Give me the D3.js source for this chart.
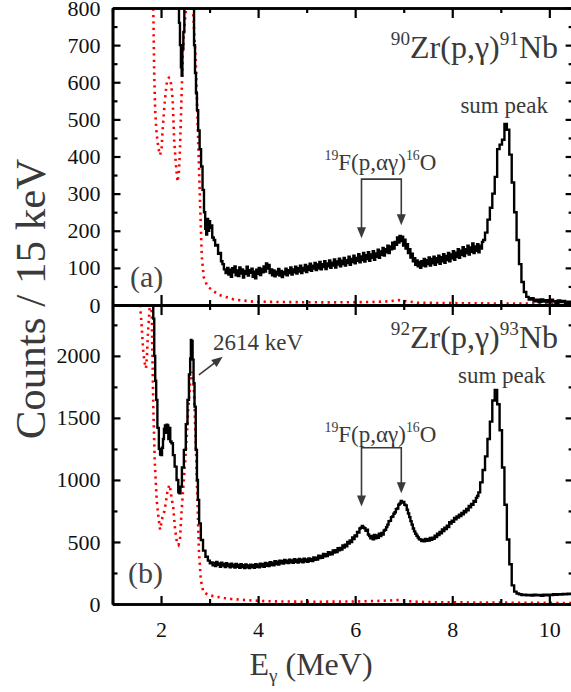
<!DOCTYPE html>
<html>
<head>
<meta charset="utf-8">
<title>Zr(p,g) spectra</title>
<script src="https://cdn.jsdelivr.net/npm/d3@7"></script>
<style>
  body { margin: 0; background: #fff; }
  svg text { font-family: "Liberation Serif", "Times New Roman", Times, serif; }
</style>
</head>
<body>
<script>
// measured spectra, [E (MeV), counts per 15 keV]
var zr90Counts = [
  [1.00,2000],[2.36,2000],[2.38,760],[2.40,700],[2.42,640],[2.43,618],[2.45,690],[2.47,735],[2.49,2000],
  [2.65,2000],[2.67,800],[2.69,700],[2.71,625],[2.73,570],[2.75,525],[2.78,470],[2.81,420],[2.84,373],
  [2.87,310],[2.90,250],[2.92,205],[2.94,190],[2.96,232],[2.98,200],[3.00,226],[3.02,208],[3.04,214],
  [3.07,182],[3.10,175],[3.13,160],[3.16,162],[3.19,138],[3.22,140],[3.25,118],[3.28,110],[3.31,96],
  [3.350,86],[3.375,100],[3.400,82],[3.425,95],[3.450,76],[3.475,99],[3.500,88],[3.525,104],[3.550,80],[3.575,93],
  [3.600,78],[3.625,101],[3.650,85],[3.675,96],[3.700,74],[3.725,92],[3.750,84],[3.775,103],[3.800,79],[3.825,94],
  [3.850,87],[3.875,98],[3.900,76],[3.925,90],[3.950,72],[3.975,95],[4.000,84],[4.025,100],[4.050,81],[4.075,97],
  [4.100,88],[4.125,104],[4.150,90],[4.175,112],[4.200,98],[4.225,108],[4.250,86],[4.275,96],[4.300,80],[4.325,93],
  [4.350,77],[4.375,90],[4.400,82],[4.425,97],[4.450,79],[4.475,92],[4.500,75],[4.525,89],[4.550,83],[4.575,98],
  [4.600,80],[4.625,94],[4.650,86],[4.675,101],[4.700,82],[4.725,96],[4.750,88],[4.775,103],[4.800,85],[4.825,99],
  [4.850,90],[4.875,106],[4.900,86],[4.925,100],[4.950,93],[4.975,108],[5.000,89],[5.025,104],[5.050,95],[5.075,111],
  [5.100,92],[5.125,106],[5.150,98],[5.175,113],[5.200,94],[5.225,109],[5.250,99],[5.275,116],[5.300,96],[5.325,110],
  [5.350,102],[5.375,118],[5.400,97],[5.425,112],[5.450,104],[5.475,120],[5.500,100],[5.525,114],[5.550,106],[5.575,123],
  [5.600,101],[5.625,117],[5.650,109],[5.675,125],[5.700,104],[5.725,119],[5.750,110],[5.775,127],[5.800,106],[5.825,121],
  [5.850,113],[5.875,130],[5.900,108],[5.925,124],[5.950,116],[5.975,133],[6.000,112],[6.025,127],[6.050,119],[6.075,137],
  [6.100,115],[6.125,131],[6.150,121],[6.175,140],[6.200,117],[6.225,134],[6.250,124],[6.275,142],[6.300,119],[6.325,136],
  [6.350,127],[6.375,145],[6.400,122],[6.425,139],[6.450,130],[6.475,149],[6.500,127],[6.525,144],[6.550,135],[6.575,154],
  [6.600,133],[6.625,150],[6.650,142],[6.675,160],[6.700,140],[6.725,158],[6.750,150],[6.775,168],[6.800,152],[6.825,170],
  [6.850,162],[6.875,182],[6.900,168],[6.925,186],[6.950,172],[6.975,184],[7.000,160],[7.025,176],[7.050,152],[7.075,164],
  [7.100,140],[7.125,150],[7.150,128],[7.175,138],[7.200,118],[7.225,126],[7.250,108],[7.275,120],[7.300,104],[7.325,116],
  [7.350,100],[7.375,118],[7.400,106],[7.425,124],[7.450,104],[7.475,121],[7.500,110],[7.525,128],[7.550,106],[7.575,124],
  [7.600,112],[7.625,130],[7.650,108],[7.675,126],[7.700,115],[7.725,133],[7.750,111],[7.775,129],[7.800,118],[7.825,137],
  [7.850,114],[7.875,132],[7.900,121],[7.925,140],[7.950,118],[7.975,136],[8.000,126],[8.025,145],[8.050,122],[8.075,141],
  [8.100,130],[8.125,150],[8.150,127],[8.175,146],[8.200,135],[8.225,156],[8.250,132],[8.275,150],[8.300,140],[8.325,160],
  [8.350,136],[8.375,155],[8.400,143],[8.425,166],[8.450,140],[8.475,158],[8.500,146],[8.525,164],[8.550,142],[8.575,160],
  [8.600,152],[8.625,170],[8.650,175],
  [8.70,195],[8.75,230],[8.80,262],[8.85,300],[8.90,345],[8.95,420],[9.00,432],[9.05,445],[9.10,488],[9.15,472],
  [9.20,405],[9.25,330],[9.30,250],[9.35,175],[9.40,110],[9.45,62],[9.50,35],[9.55,22],[9.60,15],[9.65,18],
  [9.70,10],[9.75,14],[9.80,8],[9.85,15],[9.90,9],[9.95,13],[10.00,7],[10.05,14],[10.10,10],[10.15,6],
  [10.20,12],[10.25,8],[10.30,11],[10.35,5],[10.40,9],[10.45,6],[10.50,8]
];

var zr90Bkg = [
  [1.00,3000],[1.83,3000],[1.84,800],[1.86,620],[1.88,520],[1.91,460],[1.95,420],[1.98,404],[2.01,420],
  [2.03,465],[2.06,520],[2.08,552],[2.11,590],[2.13,606],[2.16,612],[2.19,611],[2.22,580],[2.24,552],
  [2.27,444],[2.31,373],[2.34,332],[2.37,360],[2.39,418],[2.42,552],[2.45,680],[2.47,732],[2.51,790],
  [2.55,1500],[2.62,2000],[2.66,790],[2.69,720],[2.72,640],[2.75,507],[2.78,380],[2.81,250],[2.84,130],
  [2.88,75],[2.95,52],[3.05,40],[3.20,27],[3.50,15],[3.90,9],[4.50,8],[5.50,7],[6.30,8],[6.70,10],
  [6.90,13],[7.00,11],[7.30,6],[8.00,5],[9.00,4],[10.50,4]
];

var zr92Counts = [
  [1.00,4000],[1.83,4000],[1.85,2300],[1.87,2000],[1.89,1800],[1.91,1645],[1.94,1420],[1.97,1250],[1.99,1205],
  [2.01,1200],[2.03,1260],[2.05,1330],[2.07,1410],[2.09,1440],[2.11,1380],[2.12,1445],[2.14,1440],[2.16,1330],
  [2.18,1420],[2.20,1310],[2.23,1296],[2.26,1200],[2.30,1107],[2.34,1000],[2.37,900],[2.39,893],[2.41,946],
  [2.45,1100],[2.49,1242],[2.53,1450],[2.56,1645],[2.59,1850],[2.61,1980],[2.62,2129],[2.63,1990],[2.64,2120],
  [2.66,1970],[2.68,1780],[2.70,1591],[2.73,1242],[2.75,1000],[2.77,839],[2.80,650],[2.84,516],[2.89,430],
  [2.94,381],[2.99,350],[3.02,328],
  [3.050,335],[3.075,312],[3.100,330],[3.125,305],[3.150,338],[3.175,315],[3.200,326],[3.225,300],[3.250,332],[3.275,310],
  [3.300,322],[3.325,298],[3.350,328],[3.375,306],[3.400,318],[3.425,295],[3.450,325],[3.475,302],[3.500,316],[3.525,294],
  [3.550,322],[3.575,300],[3.600,314],[3.625,292],[3.650,320],[3.675,298],[3.700,312],[3.725,290],[3.750,318],[3.775,296],
  [3.800,310],[3.825,289],[3.850,316],[3.875,297],[3.900,312],[3.925,292],[3.950,320],[3.975,300],[4.000,316],[4.025,296],
  [4.050,324],[4.075,304],[4.100,320],[4.125,300],[4.150,330],[4.175,308],[4.200,326],[4.225,306],[4.250,336],[4.275,314],
  [4.300,332],[4.325,312],[4.350,344],[4.375,322],[4.400,340],[4.425,318],[4.450,350],[4.475,328],[4.500,346],[4.525,326],
  [4.550,356],[4.575,334],[4.600,350],[4.625,330],[4.650,358],[4.675,336],[4.700,352],[4.725,332],[4.750,362],[4.775,340],
  [4.800,356],[4.825,334],[4.850,364],[4.875,342],[4.900,358],[4.925,336],[4.950,366],[4.975,344],[5.000,360],[5.025,340],
  [5.050,368],[5.075,348],[5.100,364],[5.125,346],[5.150,376],[5.175,356],[5.200,374],[5.225,358],[5.250,390],[5.275,370],
  [5.300,388],[5.325,372],[5.350,404],[5.375,384],[5.400,402],[5.425,386],[5.450,418],[5.475,398],[5.500,416],[5.525,400],
  [5.550,432],[5.575,414],[5.600,434],[5.625,418],[5.650,450],[5.675,432],[5.700,452],[5.725,438],[5.750,472],[5.775,456],
  [5.800,478],[5.825,466],[5.850,500],[5.875,488],[5.900,512],[5.925,500],[5.950,536],[5.975,524],[6.000,552],[6.025,545],
  [6.050,580],[6.075,575],[6.100,608],[6.125,615],[6.150,630],[6.175,618],[6.200,610],[6.225,590],[6.250,598],[6.275,560],
  [6.300,548],[6.325,530],[6.350,548],[6.375,522],[6.400,556],[6.425,530],[6.450,552],[6.475,534],[6.500,566],[6.525,548],
  [6.550,572],[6.575,560],[6.600,592],[6.625,598],[6.650,620],[6.675,640],[6.700,668],[6.725,670],[6.750,700],[6.775,705],
  [6.800,728],[6.825,740],[6.850,765],[6.875,770],[6.900,800],[6.925,810],[6.950,830],[6.975,818],[7.000,822],[7.025,800],
  [7.050,795],[7.075,760],[7.100,730],[7.125,700],[7.150,668],[7.175,640],[7.200,608],[7.225,585],[7.250,566],[7.275,550],
  [7.300,536],[7.325,522],[7.350,520],[7.375,508],[7.400,516],[7.425,505],[7.450,524],[7.475,510],[7.500,522],[7.525,512],
  [7.550,532],[7.575,518],[7.600,534],[7.625,526],[7.650,550],[7.675,540],[7.700,566],[7.725,556],[7.750,580],[7.775,570],
  [7.800,600],[7.825,588],[7.850,614],[7.875,604],[7.900,632],[7.925,620],[7.950,660],[7.975,648],[8.000,672],[8.025,662],
  [8.050,694],[8.075,682],[8.100,706],[8.125,696],[8.150,720],[8.175,708],[8.200,734],[8.225,724],[8.250,750],[8.275,740],
  [8.300,766],[8.325,756],[8.350,790],[8.375,780],[8.400,806],[8.425,800],[8.450,830],[8.475,824],[8.500,855],[8.525,870],
  [8.55,900],[8.60,980],[8.65,1080],[8.70,1190],[8.75,1330],[8.80,1470],[8.85,1640],[8.90,1725],[8.95,1610],[9.00,1400],
  [9.05,1100],[9.10,800],[9.15,520],[9.20,320],[9.25,150],[9.30,100],[9.35,85],[9.40,78],[9.45,72],[9.50,75],
  [9.55,70],[9.60,73],[9.65,68],[9.70,74],[9.75,70],[9.80,72],[9.85,67],[9.90,74],[9.95,70],[10.00,75],
  [10.05,72],[10.10,78],[10.15,74],[10.20,80],[10.25,76],[10.30,82],[10.35,78],[10.40,84],[10.45,80],[10.50,83]
];

var zr92Bkg = [
  [1.00,4000],[1.55,4000],[1.57,2400],[1.60,2250],[1.63,2050],[1.66,1950],[1.69,1900],[1.71,2000],[1.73,2180],
  [1.76,2350],[1.79,2600],[1.81,2300],[1.84,1600],[1.87,1150],[1.91,840],[1.95,690],[1.98,600],[2.01,660],
  [2.03,700],[2.07,750],[2.10,820],[2.13,900],[2.17,960],[2.19,930],[2.21,870],[2.25,780],[2.29,600],
  [2.33,490],[2.36,476],[2.39,516],[2.42,730],[2.46,950],[2.49,1107],[2.53,1350],[2.56,1565],[2.60,1780],
  [2.63,1850],[2.65,1870],[2.68,1699],[2.72,1242],[2.75,839],[2.78,435],[2.82,194],[2.87,99],[2.97,73],
  [3.12,60],[3.30,48],[3.45,40],[3.80,30],[4.18,22],[5.00,18],[6.00,20],[6.50,25],[6.90,32],[7.10,22],
  [7.50,15],[8.50,12],[9.50,10],[10.50,8]
];

var xTicks = [2, 4, 6, 8, 10];
var xMinor = [1, 3, 5, 7, 9];
var topTicks = [0, 100, 200, 300, 400, 500, 600, 700, 800];
var topMinor = [50, 150, 250, 350, 450, 550, 650, 750];
var botTicks = [0, 500, 1000, 1500, 2000];
var botMinor = [250, 750, 1250, 1750, 2250];
var fluorineLines = [6.13, 6.95];   // 19F(p,ag)16O gamma lines

var W = 571, H = 692;
var plotL = 112.5, plotR = 573.6, plotT = 8, plotM = 305, plotB = 604;
var grey = "#3a3a3a";
var serif = "'Liberation Serif', 'Times New Roman', Times, serif";

var svg = d3.select("body").append("svg")
  .attr("width", W).attr("height", H);

var x = d3.scaleLinear().domain([1, 10.5]).range([plotL, plotR]);
var yTop = d3.scaleLinear().domain([0, 800]).range([plotM, plotT]);
var yBot = d3.scaleLinear().domain([0, 2410]).range([plotB, plotM]);

var defs = svg.append("defs");
defs.append("clipPath").attr("id", "clipTop").append("rect")
  .attr("x", plotL).attr("y", plotT).attr("width", plotR - plotL).attr("height", plotM - plotT);
defs.append("clipPath").attr("id", "clipBot").append("rect")
  .attr("x", plotL).attr("y", plotM).attr("width", plotR - plotL).attr("height", plotB - plotM);

function drawPanel(y, counts, bkg, clipId) {
  var g = svg.append("g").attr("clip-path", "url(#" + clipId + ")");
  g.append("path").datum(bkg)
    .attr("fill", "none").attr("stroke", "#ff0000").attr("stroke-width", 2.6)
    .attr("stroke-dasharray", "2.2,4.2")
    .attr("d", d3.line().x(function(d) { return x(d[0]); }).y(function(d) { return y(d[1]); }));
  g.append("path").datum(counts)
    .attr("fill", "none").attr("stroke", "#000").attr("stroke-width", 2.4)
    .attr("d", d3.line().curve(d3.curveStep).x(function(d) { return x(d[0]); }).y(function(d) { return y(d[1]); }));
}

drawPanel(yTop, zr90Counts, zr90Bkg, "clipTop");
drawPanel(yBot, zr92Counts, zr92Bkg, "clipBot");

// axes ---------------------------------------------------------
function styleAxis(g) {
  g.attr("font-family", serif);
  g.selectAll("path.domain").attr("stroke", "#000").attr("stroke-width", 2.6);
  g.selectAll(".tick line").attr("stroke", "#000").attr("stroke-width", 2.2);
  g.selectAll(".tick text").attr("font-size", 22).attr("fill", "#111");
}
function addAxis(axis, tx, ty) {
  svg.append("g").attr("transform", "translate(" + tx + "," + ty + ")").call(axis).call(styleAxis);
}
var none = function() { return ""; };

// x axes
addAxis(d3.axisTop(x).tickValues(xTicks).tickSize(-10).tickSizeOuter(0).tickFormat(none), 0, plotT);
addAxis(d3.axisTop(x).tickValues(xMinor).tickSize(-5).tickSizeOuter(0).tickFormat(none), 0, plotT);
addAxis(d3.axisBottom(x).tickValues(xTicks).tickSize(-10).tickSizeOuter(0).tickFormat(none), 0, plotM);
addAxis(d3.axisBottom(x).tickValues(xMinor).tickSize(-5).tickSizeOuter(0).tickFormat(none), 0, plotM);
addAxis(d3.axisTop(x).tickValues(xTicks).tickSize(-10).tickSizeOuter(0).tickFormat(none), 0, plotM);
addAxis(d3.axisTop(x).tickValues(xMinor).tickSize(-5).tickSizeOuter(0).tickFormat(none), 0, plotM);
addAxis(d3.axisBottom(x).tickValues(xTicks).tickSize(-8).tickSizeOuter(0).tickPadding(17).tickFormat(d3.format("d")), 0, plotB);
addAxis(d3.axisBottom(x).tickValues(xMinor).tickSize(-5).tickSizeOuter(0).tickFormat(none), 0, plotB);

// y axes, top panel
addAxis(d3.axisLeft(yTop).tickValues(topTicks).tickSize(-8).tickSizeOuter(0).tickPadding(12).tickFormat(d3.format("d")), plotL, 0);
addAxis(d3.axisLeft(yTop).tickValues(topMinor).tickSize(-5).tickSizeOuter(0).tickFormat(none), plotL, 0);
addAxis(d3.axisRight(yTop).tickValues(topTicks).tickSize(-8).tickSizeOuter(0).tickFormat(none), plotR, 0);
addAxis(d3.axisRight(yTop).tickValues(topMinor).tickSize(-5).tickSizeOuter(0).tickFormat(none), plotR, 0);
// y axes, bottom panel
addAxis(d3.axisLeft(yBot).tickValues(botTicks).tickSize(-8).tickSizeOuter(0).tickPadding(12).tickFormat(d3.format("d")), plotL, 0);
addAxis(d3.axisLeft(yBot).tickValues(botMinor).tickSize(-5).tickSizeOuter(0).tickFormat(none), plotL, 0);
addAxis(d3.axisRight(yBot).tickValues(botTicks).tickSize(-8).tickSizeOuter(0).tickFormat(none), plotR, 0);
addAxis(d3.axisRight(yBot).tickValues(botMinor).tickSize(-5).tickSizeOuter(0).tickFormat(none), plotR, 0);

// text helpers -------------------------------------------------
// parts: [text, "sup" | "sub" | ""]
function rich(px, py, parts, size, anchor, fill) {
  var t = svg.append("text").attr("x", px).attr("y", py)
    .attr("font-family", serif)
    .attr("font-size", size).attr("fill", fill || grey)
    .attr("text-anchor", anchor || "start");
  var shift = 0;
  parts.forEach(function(p) {
    var target = p[1] == "sup" ? -0.42 * size : p[1] == "sub" ? 0.22 * size : 0;
    t.append("tspan").attr("dy", target - shift)
      .attr("font-size", p[1] ? size * 0.6 : size)
      .text(p[0]);
    shift = target;
  });
  return t;
}

// axis titles
svg.append("text")
  .attr("transform", "translate(45,299) rotate(-90)")
  .attr("font-family", serif)
  .attr("text-anchor", "middle").attr("font-size", 43).attr("fill", grey)
  .text("Counts / 15 keV");
rich(311, 675, [["E", ""], ["\u03b3", "sub"], [" (MeV)", ""]], 32, "middle");

// reaction labels
rich(558, 58, [["90", "sup"], ["Zr(p,\u03b3)", ""], ["91", "sup"], ["Nb", ""]], 32, "end");
rich(558, 348, [["92", "sup"], ["Zr(p,\u03b3)", ""], ["93", "sup"], ["Nb", ""]], 32, "end");

rich(x(9.07), 113, [["sum peak", ""]], 23, "middle");
rich(x(9.02), 383, [["sum peak", ""]], 23, "middle");

rich(130, 287, [["(a)", ""]], 30, "start", "#444");
rich(128, 583, [["(b)", ""]], 30, "start", "#444");

// 19F(p,ag)16O brackets
function arrowHead(tx, ty, angle) {
  svg.append("path")
    .attr("d", "M0,0 L-4.5,-11 L4.5,-11 Z")
    .attr("fill", grey)
    .attr("transform", "translate(" + tx + "," + ty + ") rotate(" + angle + ")");
}
function fluorine(y, textY, barVal, tipVals) {
  rich(x(6.52), textY, [["19", "sup"], ["F(p,\u03b1\u03b3)", ""], ["16", "sup"], ["O", ""]], 23, "middle");
  var yb = y(barVal);
  svg.append("path")
    .attr("d", "M" + x(fluorineLines[0]) + "," + (y(tipVals[0]) - 9) + " L" + x(fluorineLines[0]) + "," + yb +
               " L" + x(fluorineLines[1]) + "," + yb + " L" + x(fluorineLines[1]) + "," + (y(tipVals[1]) - 9))
    .attr("fill", "none").attr("stroke", grey).attr("stroke-width", 1.6);
  arrowHead(x(fluorineLines[0]), y(tipVals[0]), 0);
  arrowHead(x(fluorineLines[1]), y(tipVals[1]), 0);
}
fluorine(yTop, 170, 339, [180, 215]);
fluorine(yBot, 441.7, 1260, [785, 893]);

// 2614 keV arrow
var a0 = [x(2.78), yBot(1847)], a1 = [x(3.27), yBot(1992)];
var ang = Math.atan2(a1[1] - a0[1], a1[0] - a0[0]);
svg.append("line")
  .attr("x1", a0[0]).attr("y1", a0[1])
  .attr("x2", a1[0] - 8 * Math.cos(ang)).attr("y2", a1[1] - 8 * Math.sin(ang))
  .attr("stroke", grey).attr("stroke-width", 1.6);
arrowHead(a1[0], a1[1], ang * 180 / Math.PI - 90);
rich(213, 350, [["2614 keV", ""]], 23, "start");
</script>
</body>
</html>
